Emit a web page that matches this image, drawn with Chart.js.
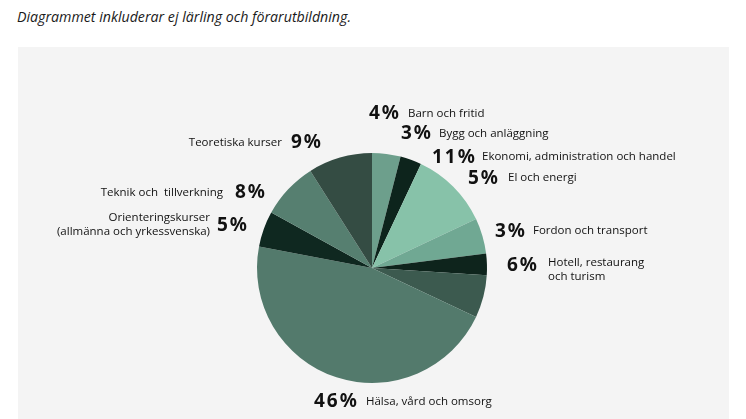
<!DOCTYPE html>
<html>
<head>
<meta charset="utf-8">
<script src="https://cdn.jsdelivr.net/npm/chart.js@4/dist/chart.umd.min.js"></script>
<style>
    html, body { margin: 0; padding: 0; background: #fff; }
    body { width: 746px; height: 419px; position: relative; overflow: hidden; }
    #title {
        position: absolute; left: 17px; top: 7px;
        font: italic 14.2px "Open Sans", sans-serif; color: #1a1a1a;
    }
    #panel {
        position: absolute; left: 18px; top: 47px; width: 711px; height: 372px;
        background: #f4f4f4;
    }
    #chartCanvas { position: absolute; left: 0; top: 0; }
</style>
</head>
<body>
<div id="title">Diagrammet inkluderar ej lärling och förarutbildning.</div>
<div id="panel"></div>
<canvas id="chartCanvas" width="746" height="419"></canvas>
<script>
// Data
const categories = [
    ['Barn och fritid'],
    ['Bygg och anläggning'],
    ['Ekonomi, administration och handel'],
    ['El och energi'],
    ['Fordon och transport'],
    ['Hotell, restaurang', 'och turism'],
    ['Hälsa, vård och omsorg'],
    ['Orienteringskurser', '(allmänna och yrkessvenska)'],
    ['Teknik och  tillverkning'],
    ['Teoretiska kurser']
];
const shares = [4, 3, 11, 5, 3, 6, 46, 5, 8, 9];
const sliceColors = [
    '#6d9f8c', '#0d241c', '#87c2a9', '#70a893', '#0e241c',
    '#3c5a4f', '#537a6c', '#0f2820', '#567f70', '#344c43'
];

// Label placement, offsets from the pie centre
// px/py: percent text (left edge, middle), tx: name text x, ty: first line middle
const labelLayout = [
    { px: -3,  py: -154, tx: 36,   ty: -154, align: 'left' },
    { px: 29,  py: -134, tx: 67,   ty: -134, align: 'left' },
    { px: 60,  py: -110, tx: 110,  ty: -111, align: 'left' },
    { px: 96,  py: -89,  tx: 136,  ty: -90,  align: 'left' },
    { px: 123, py: -36,  tx: 161,  ty: -37,  align: 'left' },
    { px: 135, py: -2,   tx: 176,  ty: -5,   align: 'left' },
    { px: -58, py: 134,  tx: -6,   ty: 134,  align: 'left' },
    { px: -155, py: -42, tx: -162, ty: -50,  align: 'right' },
    { px: -137, py: -75, tx: -149, ty: -75,  align: 'right' },
    { px: -81, py: -125, tx: -90,  ty: -125, align: 'right' }
];

const pieLabels = {
    id: 'pieLabels',
    afterDraw(chart) {
        const c = chart.ctx;
        const arc = chart.getDatasetMeta(0).data[0];
        const cx = arc.x, cy = arc.y;
        c.save();
        c.fillStyle = '#111';
        c.textBaseline = 'middle';
        shares.forEach((v, i) => {
            const l = labelLayout[i];
            c.font = 'bold 19px "Noto Sans", sans-serif';
            c.letterSpacing = '2px';
            c.textAlign = 'left';
            c.fillText(v + '%', cx + l.px, cy + l.py);
            c.font = '11.5px "Open Sans", sans-serif';
            c.letterSpacing = '0px';
            c.textAlign = l.align;
            categories[i].forEach((line, j) => {
                c.fillText(line, cx + l.tx, cy + l.ty + j * 14);
            });
        });
        c.restore();
    }
};

const chart = new Chart(document.getElementById('chartCanvas').getContext('2d'), {
    type: 'pie',
    data: {
        labels: categories.map(c => c.join(' ')),
        datasets: [{
            data: shares,
            backgroundColor: sliceColors,
            borderWidth: 0
        }]
    },
    options: {
        responsive: false,
        animation: false,
        layout: {
            padding: { top: 153, bottom: 36, left: 257, right: 259 }
        },
        plugins: {
            legend: { display: false },
            tooltip: { enabled: false }
        }
    },
    plugins: [pieLabels]
});
</script>
</body>
</html>
